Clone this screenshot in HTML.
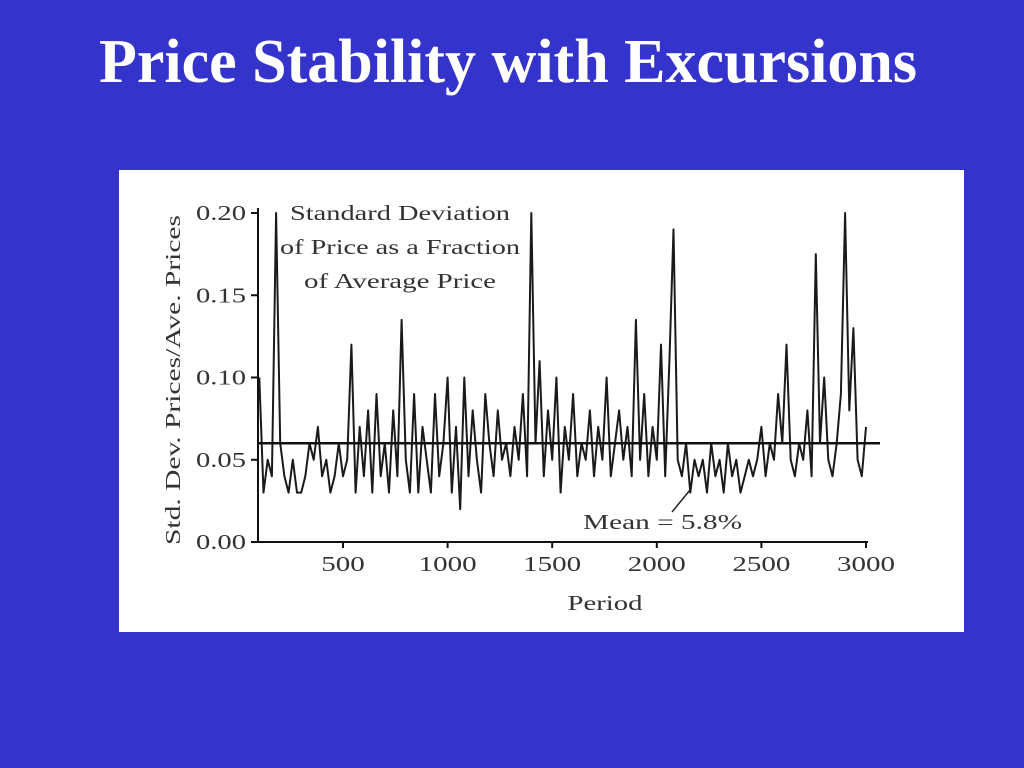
<!DOCTYPE html>
<html><head><meta charset="utf-8"><style>
body{margin:0;width:1024px;height:768px;background:#3434cc;overflow:hidden;font-family:"Liberation Serif",serif}
#title{position:absolute;left:0;top:26px;width:1016px;text-align:center;color:#fff;font-weight:bold;font-size:62px;line-height:72px}
#panel{position:absolute;left:119px;top:170px;width:845px;height:462px;background:#fff}
</style></head><body>
<div id="title">Price Stability with Excursions</div>
<div id="panel"></div>
<svg id="chart" width="1024" height="768" style="position:absolute;left:0;top:0"></svg>
<script>
const xTicks=[500,1000,1500,2000,2500,3000];
const yTicks=[0,0.05,0.10,0.15,0.20];
const yTickLabels=["0.00","0.05","0.10","0.15","0.20"];
const meanValue=0.06;
const startPeriod=100, stepPeriod=20;
const values=[
0.10,0.03,0.05,0.04,0.20,0.06,0.04,0.03,0.05,0.03,
0.03,0.04,0.06,0.05,0.07,0.04,0.05,0.03,0.04,0.06,
0.04,0.05,0.12,0.03,0.07,0.04,0.08,0.03,0.09,0.04,
0.06,0.03,0.08,0.04,0.135,0.05,0.03,0.09,0.03,0.07,
0.05,0.03,0.09,0.04,0.06,0.10,0.03,0.07,0.02,0.10,
0.04,0.08,0.05,0.03,0.09,0.06,0.04,0.08,0.05,0.06,
0.04,0.07,0.05,0.09,0.04,0.20,0.06,0.11,0.04,0.08,
0.05,0.10,0.03,0.07,0.05,0.09,0.04,0.06,0.05,0.08,
0.04,0.07,0.05,0.10,0.04,0.06,0.08,0.05,0.07,0.04,
0.135,0.05,0.09,0.04,0.07,0.05,0.12,0.04,0.11,0.19,
0.05,0.04,0.06,0.03,0.05,0.04,0.05,0.03,0.06,0.04,
0.05,0.03,0.06,0.04,0.05,0.03,0.04,0.05,0.04,0.05,
0.07,0.04,0.06,0.05,0.09,0.06,0.12,0.05,0.04,0.06,
0.05,0.08,0.04,0.175,0.06,0.10,0.05,0.04,0.06,0.09,
0.20,0.08,0.13,0.05,0.04,0.07];
const NS="http://www.w3.org/2000/svg";
const svg=document.getElementById('chart');
const X=v=>343+(v-500)*(104.6/500);
const Y=v=>542-v*(329/0.20);
function mk(t,a,txt){const e=document.createElementNS(NS,t);for(const k in a)e.setAttribute(k,a[k]);if(txt!=null)e.textContent=txt;svg.appendChild(e);return e;}
let d="";values.forEach((v,i)=>{const p=startPeriod+i*stepPeriod;d+=(i?"L":"M")+X(p).toFixed(1)+","+Y(v).toFixed(1);});
let s=mk('path',{d:d,fill:'none',stroke:'#1a1a1a','stroke-width':2,'stroke-linejoin':'round'});


let m=mk('line',{x1:258,x2:880,y1:Y(meanValue),y2:Y(meanValue),stroke:'#111','stroke-width':2.5});


let ya=mk('line',{x1:258,x2:258,y1:208,y2:542,stroke:'#111','stroke-width':2});


let xa=mk('line',{x1:257,x2:868,y1:542,y2:542,stroke:'#111','stroke-width':2});


yTicks.forEach((v,i)=>{
 mk('line',{x1:251,x2:258,y1:Y(v),y2:Y(v),stroke:'#111','stroke-width':2});
 let t=mk('text',{x:246,y:Y(v)+7,'text-anchor':'end','font-size':21,fill:'#333',textLength:50,lengthAdjust:'spacingAndGlyphs'},yTickLabels[i]);
 
 
});
xTicks.forEach(v=>{
 mk('line',{x1:X(v),x2:X(v),y1:542,y2:548,stroke:'#111','stroke-width':2});
 const s=String(v);
 let t=mk('text',{x:X(v),y:571,'text-anchor':'middle','font-size':21,fill:'#333',textLength:s.length*14.5,lengthAdjust:'spacingAndGlyphs'},s);
 
 
});
let xt=mk('text',{x:605,y:610,'text-anchor':'middle','font-size':21,fill:'#333',textLength:75,lengthAdjust:'spacingAndGlyphs'},'Period');


let yt=mk('text',{x:0,y:0,'text-anchor':'middle','font-size':21,fill:'#333',transform:'translate(180,380) rotate(-90)',textLength:330,lengthAdjust:'spacingAndGlyphs'},'Std. Dev. Prices/Ave. Prices');


const ann=[["Standard Deviation",220],["of Price as a Fraction",240],["of Average Price",192]];
ann.forEach((l,i)=>{
 let a=mk('text',{x:400,y:220+i*34,'text-anchor':'middle','font-size':21,fill:'#333',textLength:l[1],lengthAdjust:'spacingAndGlyphs'},l[0]);
 
 
});
mk('line',{x1:672,x2:690,y1:512,y2:490,stroke:'#222','stroke-width':1.5});
let mt=mk('text',{x:583,y:529,'font-size':21,fill:'#333',textLength:159,lengthAdjust:'spacingAndGlyphs'},'Mean = 5.8%');


</script>
</body></html>
